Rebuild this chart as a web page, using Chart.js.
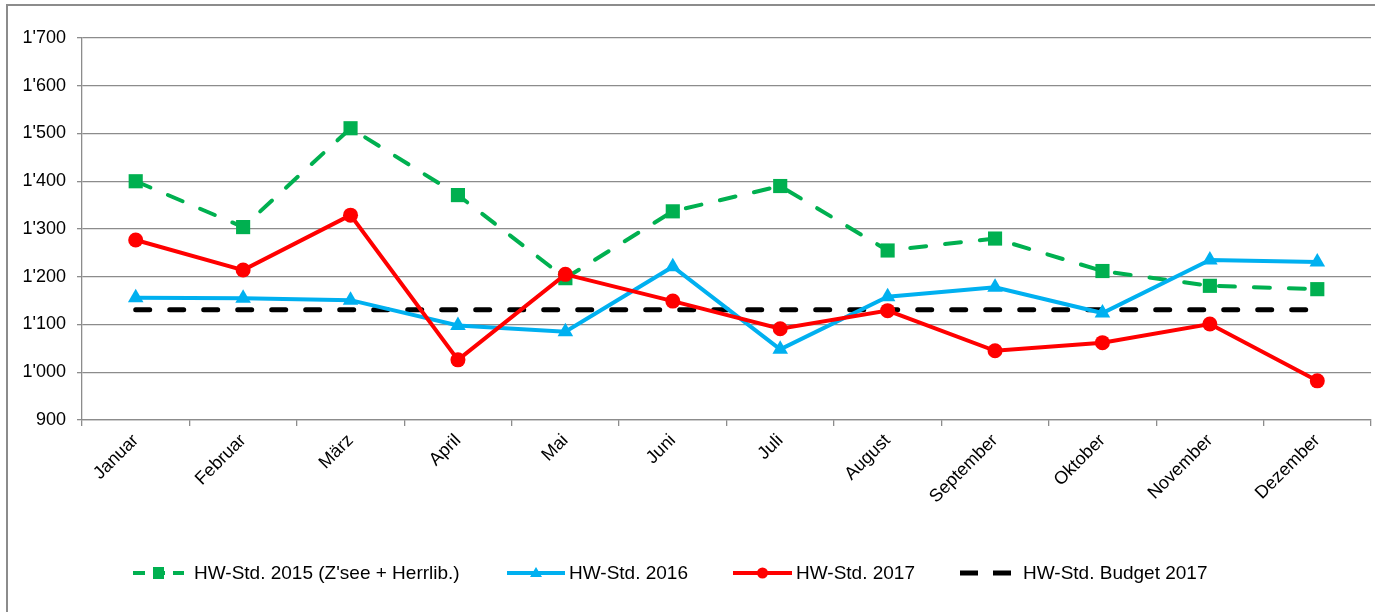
<!DOCTYPE html>
<html>
<head>
<meta charset="utf-8">
<script src="https://cdn.jsdelivr.net/npm/chart.js@4.4.1/dist/chart.umd.min.js"></script>
<style>
  html, body { margin: 0; padding: 0; background: #fff; overflow: hidden; }
  #frame { position: absolute; left: 6px; top: 4px; width: 1420px; height: 660px;
           border-left: 2px solid #8c8c8c; border-top: 2px solid #8c8c8c; }
  #wrap { position: absolute; left: 8px; top: 6px; width: 1373px; height: 606px; }
</style>
</head>
<body>
<div id="frame"></div>
<div id="wrap"><canvas id="chart"></canvas></div>
<script>
const months = ['Januar', 'Februar', 'März', 'April', 'Mai', 'Juni', 'Juli',
  'August', 'September', 'Oktober', 'November', 'Dezember'];

const hw2015 = [1400, 1304, 1511, 1371, 1197, 1337, 1390, 1255, 1280, 1212, 1181, 1174];
const hw2016 = [1156, 1155, 1151, 1098, 1085, 1221, 1048, 1158, 1178, 1124, 1235, 1231];
const hw2017 = [1277, 1214, 1329, 1026, 1205, 1149, 1091, 1129, 1045, 1062, 1101, 982];
const budget2017 = [1131, 1131, 1131, 1131, 1131, 1131, 1131, 1131, 1131, 1131, 1131, 1131];

const yMin = 900;
const yMax = 1700;
const yStep = 100;

const GREEN = '#00b050';
const BLUE = '#00b0f0';
const RED = '#ff0000';
const BLACK = '#000000';
const GRID = '#8c8c8c';
const FONT = '"Liberation Sans", Arial, sans-serif';

// 1'700 style thousands separator
function swissFormat(v) {
  if (v < 1000) return String(v);
  return Math.floor(v / 1000) + "'" + String(v % 1000).padStart(3, '0');
}

// legend line start, line end, text start (canvas x)
const legendSlots = [
  [125, 176, 186],
  [499, 557, 561],
  [725, 784, 788],
  [952, 1004, 1015],
];
const legendY = 567;

const lineLegend = {
  id: 'lineLegend',
  afterDraw(chart) {
    const ctx = chart.ctx;
    ctx.save();
    chart.data.datasets.forEach((ds, i) => {
      const [x0, x1, tx] = legendSlots[i];
      ctx.strokeStyle = ds.borderColor;
      ctx.fillStyle = ds.borderColor;
      ctx.lineWidth = ds.legendWidth;
      ctx.lineCap = 'butt';
      ctx.setLineDash(ds.legendDash || []);
      ctx.beginPath();
      ctx.moveTo(x0, legendY);
      ctx.lineTo(x1, legendY);
      ctx.stroke();
      ctx.setLineDash([]);
      const cx = (x0 + x1) / 2;
      if (ds.pointStyle === 'rect') {
        ctx.fillRect(cx - 5.5, legendY - 6, 11, 12);
      } else if (ds.pointStyle === 'triangle') {
        ctx.beginPath();
        ctx.moveTo(cx, legendY - 6);
        ctx.lineTo(cx + 6, legendY + 4);
        ctx.lineTo(cx - 6, legendY + 4);
        ctx.closePath();
        ctx.fill();
      } else if (ds.pointStyle === 'circle' && ds.pointRadius > 0) {
        ctx.beginPath();
        ctx.arc(cx, legendY, 5.5, 0, Math.PI * 2);
        ctx.fill();
      }
      ctx.fillStyle = '#000';
      ctx.font = '19px ' + FONT;
      ctx.textBaseline = 'middle';
      ctx.textAlign = 'left';
      ctx.fillText(ds.label, tx, legendY + 1);
    });
    ctx.restore();
  },
};

new Chart(document.getElementById('chart'), {
  type: 'line',
  data: {
    labels: months,
    datasets: [
      {
        label: "HW-Std. 2015 (Z'see + Herrlib.)",
        data: hw2015,
        borderColor: GREEN,
        backgroundColor: GREEN,
        borderWidth: 4,
        borderDash: [16, 19],
        borderCapStyle: 'round',
        pointStyle: 'rect',
        pointRadius: 10,
        pointBorderWidth: 0,
        legendWidth: 4,
        legendDash: [12, 8],
        order: 2,
      },
      {
        label: 'HW-Std. 2016',
        data: hw2016,
        borderColor: BLUE,
        backgroundColor: BLUE,
        borderWidth: 4,
        pointStyle: 'triangle',
        pointRadius: 9,
        pointBorderWidth: 0,
        legendWidth: 4,
        order: 1,
      },
      {
        label: 'HW-Std. 2017',
        data: hw2017,
        borderColor: RED,
        backgroundColor: RED,
        borderWidth: 4,
        pointStyle: 'circle',
        pointRadius: 7.5,
        pointBorderWidth: 0,
        legendWidth: 4,
        order: 0,
      },
      {
        label: 'HW-Std. Budget 2017',
        data: budget2017,
        borderColor: BLACK,
        backgroundColor: BLACK,
        borderWidth: 5,
        borderDash: [14, 20],
        borderCapStyle: 'round',
        pointStyle: 'circle',
        pointRadius: 0,
        legendWidth: 5,
        legendDash: [18, 15],
        order: 3,
      },
    ],
  },
  options: {
    responsive: true,
    maintainAspectRatio: false,
    animation: false,
    layout: { padding: { top: 32, right: 5, bottom: 102, left: 0 } },
    elements: { line: { tension: 0 } },
    plugins: {
      legend: { display: false },
      tooltip: { enabled: false },
    },
    scales: {
      x: {
        offset: true,
        grid: {
          offset: true,
          drawOnChartArea: false,
          color: GRID,
          lineWidth: 1.3,
          tickLength: 6,
        },
        border: { display: true, color: GRID, width: 1.3 },
        ticks: {
          color: '#000',
          font: { family: FONT, size: 18 },
          minRotation: 45,
          maxRotation: 45,
          autoSkip: false,
          padding: 4,
        },
        afterFit(scale) {
          scale.height = 90;
          scale.paddingRight = 0;
          scale.paddingLeft = 0;
        },
      },
      y: {
        min: yMin,
        max: yMax,
        grid: { color: GRID, lineWidth: 1.3, tickLength: 5 },
        border: { display: true, color: GRID, width: 1.3 },
        ticks: {
          stepSize: yStep,
          color: '#000',
          font: { family: FONT, size: 18 },
          padding: 11,
          callback: (v) => swissFormat(v),
        },
        afterFit(scale) { scale.width = 74; },
      },
    },
  },
  plugins: [lineLegend],
});
</script>
</body>
</html>
